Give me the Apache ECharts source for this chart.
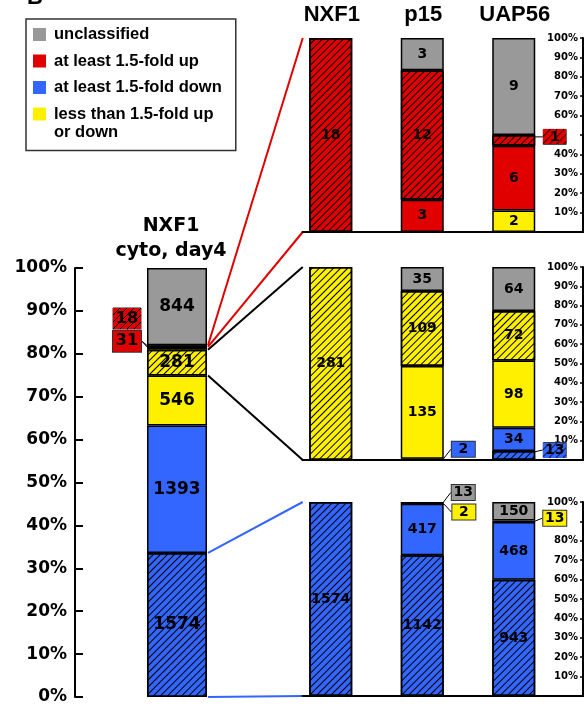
<!DOCTYPE html>
<html>
<head>
<meta charset="utf-8">
<script src="https://cdn.jsdelivr.net/npm/echarts@6/dist/echarts.min.js"></script>
<style>
  html, body { margin: 0; padding: 0; background: #fff; }
  #chart { width: 588px; height: 706px; }
</style>
</head>
<body>
<div id="chart"></div>
<script>
// Gene counts per class, each list ordered from the bottom of a stack to its top:
// down (shared), down, unchanged, unchanged (shared), up, up (shared), unclassified
const classNames = [
  'at least 1.5-fold down, shared',
  'at least 1.5-fold down',
  'less than 1.5-fold up',
  'less than 1.5-fold, shared',
  'at least 1.5-fold up',
  'at least 1.5-fold up, shared',
  'unclassified'
];
const mainCategory = ['NXF1\ncyto, day4'];
const mainCounts = [1574, 1393, 546, 281, 31, 18, 844];

const panelCategories = ['NXF1', 'p15', 'UAP56'];
// genes up in NXF1
const upNXF1  = [0, 0, 0, 0, 0, 18, 0];
const upP15   = [0, 0, 0, 0, 3, 12, 3];
const upUAP56 = [0, 0, 2, 0, 6, 1, 9];
// genes unchanged in NXF1
const midNXF1  = [0, 0, 0, 281, 0, 0, 0];
const midP15   = [0, 2, 135, 109, 0, 0, 35];
const midUAP56 = [13, 34, 98, 72, 0, 0, 64];
// genes down in NXF1
const downNXF1  = [1574, 0, 0, 0, 0, 0, 0];
const downP15   = [1142, 417, 2, 0, 0, 0, 13];
const downUAP56 = [943, 468, 13, 0, 0, 0, 150];

const percentMax = 100;
const percentStep = 10;
// panel tick labels left out where a boxed value sits over them
const panelHiddenTicks = [[50], [], [90]];

// ---- styling ----
const RED = '#e00000', BLUE = '#3366ff', YEL = '#fff000', GRAY = '#999999';
const classColors = [BLUE, BLUE, YEL, YEL, RED, RED, GRAY];
const classHatched = [true, false, false, true, false, true, false];
const legendNames = ['unclassified', 'at least 1.5-fold up', 'at least 1.5-fold down', 'less than 1.5-fold up'];

const hatchDecal = {
  symbol: 'rect', symbolSize: 1,
  dashArrayX: [1, 0], dashArrayY: [1, 4],
  rotation: -Math.PI / 4, color: '#000'
};

const panels = [
  [upNXF1, upP15, upUAP56],
  [midNXF1, midP15, midUAP56],
  [downNXF1, downP15, downUAP56]
];

const toPct = counts => {
  const total = counts.reduce((a, b) => a + b, 0);
  return counts.map(c => c / total * 100);
};

// small boxed labels for segments too thin to hold their number
const callouts = {
  '0-0-4': { side: 'left', dy: -7 },
  '0-0-5': { side: 'left', dy: -27.6 },
  '1-2-5': { side: 'right', dy: -3.5 },
  '2-1-1': { side: 'right', dy: -10 },
  '2-2-0': { side: 'right', dy: -5.5 },
  '3-1-2': { side: 'right', dy: 8.3 },
  '3-1-6': { side: 'right', dy: -10.3 },
  '3-2-2': { side: 'right', dy: -3 }
};

function hatchCanvas(w, h, fill) {
  const c = document.createElement('canvas');
  c.width = w; c.height = h;
  const ctx = c.getContext('2d');
  ctx.fillStyle = fill;
  ctx.fillRect(0, 0, w, h);
  ctx.strokeStyle = '#000';
  ctx.lineWidth = 1;
  for (let i = -h; i < w + h; i += 7) {
    ctx.beginPath();
    ctx.moveTo(i, h);
    ctx.lineTo(i + h, 0);
    ctx.stroke();
  }
  return c;
}

const valueFont = { fontFamily: 'DejaVu Sans', fontWeight: 'bold', color: '#000' };

function calloutLabel(grid, cls, spec) {
  const big = grid === 0;
  const w = big ? 22 : 21, h = big ? 21 : 15, px = big ? 3 : 1;
  const boxW = w + 2 * px, boxH = h;
  const bg = classHatched[cls] ? { image: hatchCanvas(boxW, boxH, classColors[cls]) } : classColors[cls];
  return {
    show: true,
    position: spec.side,
    distance: big ? 6 : 8,
    formatter: p => '{c|' + p.data.count + '}',
    rich: { c: Object.assign({ width: w, height: h, lineHeight: h, align: 'center', fontSize: big ? 16 : 14 }, valueFont) },
    backgroundColor: bg,
    borderColor: '#333',
    borderWidth: 1,
    padding: [0, px]
  };
}

function dataItem(grid, col, cls, count, value) {
  const item = { value: value, count: count };
  const spec = callouts[grid + '-' + col + '-' + cls];
  if (spec) {
    item.label = calloutLabel(grid, cls, spec);
    item.labelLine = { show: true, lineStyle: { color: '#000', width: 1 } };
  }
  return item;
}

function makeSeries(grid, cls, data, barWidth, fontSize) {
  return {
    type: 'bar',
    name: classNames[cls],
    xAxisIndex: grid, yAxisIndex: grid,
    stack: 'g' + grid,
    barWidth: barWidth,
    data: data,
    itemStyle: Object.assign(
      { color: classColors[cls], borderColor: '#000', borderWidth: 1.5 },
      classHatched[cls] ? { decal: hatchDecal } : {}
    ),
    emphasis: { disabled: true },
    label: Object.assign({ show: true, position: 'inside', fontSize: fontSize, formatter: p => String(p.data.count) }, valueFont),
    labelLayout: p => {
      const col = grid === 0 ? 0 : p.dataIndex;
      const spec = callouts[grid + '-' + col + '-' + cls];
      return spec ? { dy: spec.dy } : {};
    }
  };
}

const series = [];
const mainPct = toPct(mainCounts);
classNames.forEach((name, k) => {
  series.push(makeSeries(0, k, [dataItem(0, 0, k, mainCounts[k], mainPct[k])], 60, 17));
});
panels.forEach((cols, p) => {
  const grid = p + 1;
  const pcts = cols.map(toPct);
  classNames.forEach((name, k) => {
    const data = cols.map((col, i) => (col[k] > 0 ? dataItem(grid, i, k, col[k], pcts[i][k]) : '-'));
    series.push(makeSeries(grid, k, data, 43, 14));
  });
});

const panelTops = [38, 267, 502];
const panelHeights = [194, 193, 194];
const panelAxisOffset = 23.5;

const grids = [{ left: 75, top: 268, width: 204, height: 429 }];
panelTops.forEach((t, i) => grids.push({ left: 285, width: 274.5, top: t, height: panelHeights[i] }));

const xAxes = [{
  gridIndex: 0, type: 'category', position: 'top', data: mainCategory,
  axisLine: { show: false }, axisTick: { show: false },
  axisLabel: {
    margin: 4, padding: [0, 12, 0, 0],
    fontFamily: 'DejaVu Sans', fontWeight: 'bold', fontSize: 19, lineHeight: 25, color: '#000'
  }
}];
const yAxes = [{
  gridIndex: 0, type: 'value', min: 0, max: percentMax, interval: percentStep,
  axisLine: { show: true, onZero: false, lineStyle: { color: '#000', width: 2 } },
  axisTick: { show: true, inside: true, length: 8, lineStyle: { color: '#000', width: 2 } },
  axisLabel: { formatter: '{value}%', margin: 8, fontFamily: 'DejaVu Sans', fontWeight: 'bold', fontSize: 17, color: '#000' },
  splitLine: { show: false }
}];
for (let g = 1; g <= 3; g++) {
  const hidden = panelHiddenTicks[g - 1];
  xAxes.push({
    gridIndex: g, type: 'category', data: panelCategories,
    axisLine: { show: false }, axisTick: { show: false }, axisLabel: { show: false }, splitLine: { show: false }
  });
  yAxes.push({
    gridIndex: g, type: 'value', position: 'right', offset: panelAxisOffset,
    min: 0, max: percentMax, interval: percentStep,
    axisLine: { show: true, onZero: false, lineStyle: { color: '#000', width: 2 } },
    axisTick: { show: true, inside: true, length: 3, lineStyle: { color: '#000', width: 1.5 } },
    axisLabel: {
      inside: true, margin: 5, showMinLabel: false,
      formatter: v => (v === 0 || hidden.indexOf(v) >= 0 ? '' : v + '%'),
      fontFamily: 'DejaVu Sans', fontWeight: 'bold', fontSize: 10, color: '#000'
    },
    splitLine: { show: false }
  });
}

const chart = echarts.init(document.getElementById('chart'), null, { renderer: 'canvas' });
chart.setOption({
  animation: false,
  backgroundColor: '#fff',
  legend: {
    left: 26, top: 19, orient: 'vertical',
    data: legendNames,
    icon: 'rect', itemWidth: 13, itemHeight: 13, itemGap: 9.5,
    itemStyle: { borderWidth: 0 },
    selectedMode: false,
    borderColor: '#333', borderWidth: 1.5,
    padding: [7, 14, 28, 7],
    textStyle: { fontFamily: 'Liberation Sans', fontWeight: 'bold', fontSize: 16.5, lineHeight: 17, color: '#000', padding: [0, 0, 0, 3] }
  },
  grid: grids,
  xAxis: xAxes,
  yAxis: yAxes,
  series: series
});

// connector lines, panel baselines and column headers placed from the axes' own scales
const cum = [0];
mainPct.forEach((v, i) => cum.push(cum[i] + v));
const mainCenter = chart.convertToPixel({ gridIndex: 0 }, [mainCategory[0], 0]);
const mainRight = mainCenter[0] + 31;
const yMain = v => chart.convertToPixel({ gridIndex: 0 }, [mainCategory[0], v])[1];
const panelPt = (g, v) => {
  const pt = chart.convertToPixel({ gridIndex: g }, [panelCategories[0], v]);
  return [pt[0] - 29, pt[1]];
};
const panelAxisX = g => chart.convertToPixel({ gridIndex: g }, [panelCategories[2], 0])[0] + 45.75 + panelAxisOffset;

function connector(fromPct, g, toPct, color) {
  const end = panelPt(g, toPct);
  return {
    type: 'line', silent: true,
    shape: { x1: mainRight, y1: yMain(fromPct), x2: end[0] + 1, y2: end[1] },
    style: { stroke: color, lineWidth: 2 }
  };
}
const graphics = [
  connector(cum[6], 1, 100, RED),
  connector(cum[5], 1, 0, RED),
  connector(cum[4], 2, 100, '#000'),
  connector(cum[3], 2, 0, '#000'),
  connector(cum[1], 3, 100, BLUE),
  connector(cum[0], 3, 0, BLUE)
];
for (let g = 1; g <= 3; g++) {
  const left = panelPt(g, 0);
  graphics.push({
    type: 'line', silent: true, z: 10,
    shape: { x1: left[0], y1: left[1], x2: panelAxisX(g) + 1, y2: left[1] },
    style: { stroke: '#000', lineWidth: 2 }
  });
}
panelCategories.forEach((name, i) => {
  const x = chart.convertToPixel({ gridIndex: 1 }, [name, 100])[0];
  graphics.push({
    type: 'text', silent: true, x: x + 1, y: 15,
    style: { text: name, align: 'center', verticalAlign: 'middle', font: 'bold 22px "Liberation Sans"', fill: '#000' }
  });
});
graphics.push({
  type: 'text', silent: true, x: 54, y: 132,
  style: { text: 'or down', align: 'left', verticalAlign: 'middle', font: 'bold 16.5px "Liberation Sans"', fill: '#000' }
});
graphics.push({
  type: 'text', silent: true, x: 27, y: 9,
  style: { text: 'B', align: 'left', verticalAlign: 'bottom', font: 'bold 22px "Liberation Sans"', fill: '#000' }
});
chart.setOption({ graphic: graphics });
</script>
</body>
</html>
